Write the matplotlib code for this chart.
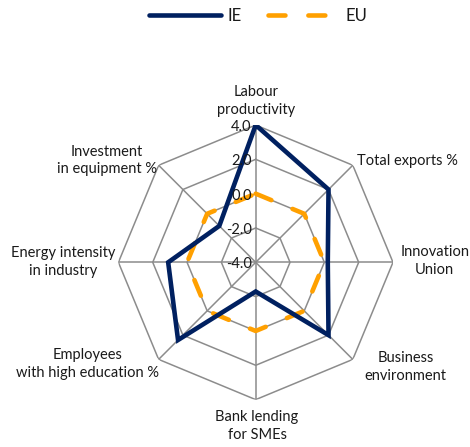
import numpy as np
import matplotlib
matplotlib.use("Agg")
import matplotlib.pyplot as plt

# Indicadores e valores (desvio face à média da UE)
categorias = ["Labour\nproductivity", "Total exports %", "Innovation\nUnion",
              "Business\nenvironment", "Bank lending\nfor SMEs",
              "Employees\nwith high education %", "Energy intensity\nin industry",
              "Investment\nin equipment %"]
valores_ie = [4.0, 2.0, 0.2, 2.0, -2.3, 2.4, 1.1, -1.0]
valores_eu = [0.0, 0.0, 0.0, 0.0, 0.0, 0.0, 0.0, 0.0]
aneis = [-4.0, -2.0, 0.0, 2.0, 4.0]

COR_IE = "#002060"
COR_EU = "#FFA000"
COR_GRELHA = "#8C8C8C"
COR_TEXTO = "#1A1A1A"

plt.rcParams['font.family'] = ['Lato', 'DejaVu Sans']

n = len(categorias)
angulos = np.linspace(0, 2 * np.pi, n, endpoint=False)
ang_fechado = np.append(angulos, angulos[0])

fig = plt.figure(figsize=(4.7, 4.47), dpi=100)
ax = fig.add_axes([0.2519, 0.106, 0.5843, 0.6143], projection='polar')
ax.set_theta_zero_location('N')
ax.set_theta_direction(-1)
ax.set_ylim(aneis[0], aneis[-1])
ax.grid(False)
ax.spines['polar'].set_visible(False)
ax.set_xticks([])
ax.set_yticks([])
ax.patch.set_alpha(0)

# grelha octogonal
for r in aneis[1:]:
    ax.plot(ang_fechado, [r] * (n + 1), color=COR_GRELHA, lw=1.1, zorder=1)
for a in angulos:
    ax.plot([a, a], [aneis[0], aneis[-1]], color=COR_GRELHA, lw=1.1, zorder=1)

# séries
ax.plot(ang_fechado, valores_eu + valores_eu[:1], color=COR_EU, lw=3.3,
        dashes=(3.7, 5.0), dash_capstyle='round', zorder=2, label="EU")
ax.plot(ang_fechado, valores_ie + valores_ie[:1], color=COR_IE, lw=3.3,
        solid_joinstyle='miter', solid_capstyle='round', zorder=3, label="IE")

# valores do eixo
for r in aneis:
    ax.annotate(f"{r:.1f}", xy=(0, r), xytext=(-3, -1.5), textcoords='offset points',
                ha='right', va='center', fontsize=10.5, color=COR_TEXTO, zorder=4)

# rótulos das categorias
posicoes = [
    (0, 'center', 'bottom', (0, 6)),
    (1, 'left', 'center', (3, 3)),
    (2, 'center', 'center', (30, 1)),
    (3, 'center', 'top', (38, 6)),
    (4, 'center', 'top', (1, -7.5)),
    (5, 'right', 'top', (0, 8)),
    (6, 'center', 'center', (-40, 0.5)),
    (7, 'right', 'bottom', (-1, -8)),
]
for i, ha, va, off in posicoes:
    ax.annotate(categorias[i], xy=(angulos[i], aneis[-1]), xytext=off,
                textcoords='offset points', ha=ha, va=va, multialignment='center',
                fontsize=10.5, color=COR_TEXTO, linespacing=1.35,
                annotation_clip=False)

handles, labels = ax.get_legend_handles_labels()
fig.legend(handles[::-1], labels[::-1], loc='upper center', bbox_to_anchor=(0.55, 1.015),
           ncol=2, frameon=False, handlelength=4.3, handletextpad=0.4,
           columnspacing=1.55, fontsize=12, labelcolor=COR_TEXTO)

fig.savefig("out.png", dpi=100)
